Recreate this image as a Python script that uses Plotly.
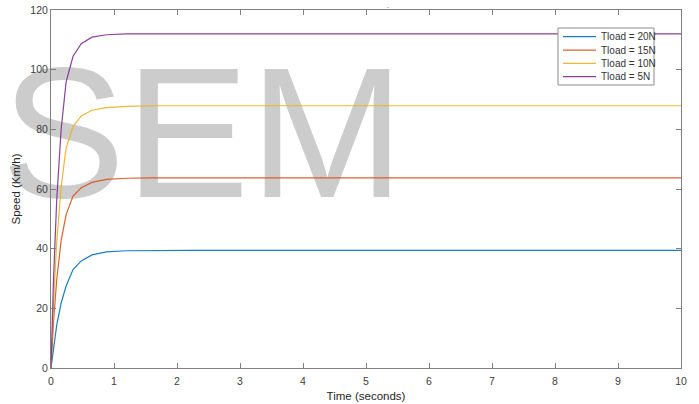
import plotly.graph_objects as go

# Simulated motor speed for four load torques (variable-step solver output)
time_s = [0, 0.04, 0.09, 0.16, 0.24, 0.35, 0.48, 0.65, 0.88, 1.2, 1.6, 2.2,
          3.0, 4.0, 5.0, 6.0, 7.0, 8.0, 9.0, 10.0]
speed_20n = [0, 7.1, 14.3, 21.7, 27.5, 33.0, 35.9, 37.9, 38.9, 39.3, 39.4, 39.4,
             39.4, 39.4, 39.4, 39.4, 39.4, 39.4, 39.4, 39.4]
speed_15n = [0, 15.4, 29.4, 42.6, 51.4, 57.6, 60.4, 62.2, 63.2, 63.6, 63.7, 63.7,
             63.7, 63.7, 63.7, 63.7, 63.7, 63.7, 63.7, 63.7]
speed_10n = [0, 22.0, 42.0, 60.5, 73.8, 80.9, 84.5, 86.4, 87.3, 87.7, 87.9, 87.9,
             87.9, 87.9, 87.9, 87.9, 87.9, 87.9, 87.9, 87.9]
speed_5n = [0, 30.0, 56.0, 79.8, 95.9, 104.5, 108.7, 110.9, 111.7, 112.0, 112.0, 112.0,
            112.0, 112.0, 112.0, 112.0, 112.0, 112.0, 112.0, 112.0]

series_names = ["Tload = 20N", "Tload = 15N", "Tload = 10N", "Tload = 5N"]
series_values = [speed_20n, speed_15n, speed_10n, speed_5n]
series_colors = ["#0072BD", "#D95319", "#EDB120", "#7E2F8E"]

x_ticks = [0, 1, 2, 3, 4, 5, 6, 7, 8, 9, 10]
y_ticks = [0, 20, 40, 60, 80, 100, 120]

W, H = 699, 404
M_L, M_R, M_T, M_B = 51, 18, 10, 36
PLOT_W = W - M_L - M_R
PLOT_H = H - M_T - M_B

FONT = "Liberation Sans, Arial, Helvetica, sans-serif"
AXIS_COLOR = "#808080"


def px_x(p):
    return (p - M_L) / PLOT_W


def px_y(p):
    return (H - M_B - p) / PLOT_H


fig = go.Figure()

# Large background watermark, drawn first so the curves sit above it
fig.add_trace(go.Scatter(
    x=[2.41], y=[73.0], mode="text", text=["SEM"],
    textposition="middle center",
    textfont=dict(family=FONT, size=186, color="#cccccc"),
    cliponaxis=False, showlegend=False, hoverinfo="skip",
))

for name, vals, col in zip(series_names, series_values, series_colors):
    fig.add_trace(go.Scatter(
        x=time_s, y=vals, mode="lines", name=name,
        line=dict(color=col, width=1.2), opacity=0.9, showlegend=False,
    ))

# Boxed legend in the upper right corner
shapes = [dict(type="rect", xref="paper", yref="paper",
               x0=px_x(558), x1=px_x(654), y0=px_y(85), y1=px_y(28),
               line=dict(color="#8c8c8c", width=1), fillcolor="white", layer="above")]
annotations = []
row0, row_step = 36.7, 13.33
for i, (name, col) in enumerate(zip(series_names, series_colors)):
    yc = row0 + i * row_step
    shapes.append(dict(type="line", xref="paper", yref="paper",
                       x0=px_x(563), x1=px_x(596), y0=px_y(yc), y1=px_y(yc),
                       line=dict(color=col, width=1.2), opacity=0.9, layer="above"))
    annotations.append(dict(xref="paper", yref="paper", x=px_x(599), y=px_y(yc),
                            xanchor="left", yanchor="middle", showarrow=False,
                            text=name, font=dict(family=FONT, size=10, color="#333333")))

# Small title mark above the axes
annotations.append(dict(xref="paper", yref="paper", x=px_x(388), y=px_y(0),
                        xanchor="center", yanchor="top", showarrow=False,
                        text=".", font=dict(family=FONT, size=7, color="#262626")))

axis_common = dict(
    showline=True, linecolor=AXIS_COLOR, linewidth=1, mirror="ticks",
    ticks="inside", ticklen=5, tickwidth=1, tickcolor=AXIS_COLOR,
    showgrid=False, zeroline=False, automargin=False,
    tickfont=dict(family=FONT, size=10.5, color="#404040"),
)

fig.update_layout(
    width=W, height=H,
    margin=dict(l=M_L, r=M_R, t=M_T, b=M_B, pad=0),
    paper_bgcolor="white", plot_bgcolor="white",
    showlegend=False,
    shapes=shapes, annotations=annotations,
    xaxis=dict(range=[0, 10], tickvals=x_ticks, ticktext=[str(v) for v in x_ticks],
               ticklabelstandoff=3,
               title=dict(text="Time (seconds)", standoff=6,
                          font=dict(family=FONT, size=11.5, color="#262626")),
               **axis_common),
    yaxis=dict(range=[0, 120], tickvals=y_ticks, ticktext=[str(v) for v in y_ticks],
               title=dict(text="Speed (Km/h)", standoff=7,
                          font=dict(family=FONT, size=11.5, color="#262626")),
               **axis_common),
)

fig.write_html("out.html")
